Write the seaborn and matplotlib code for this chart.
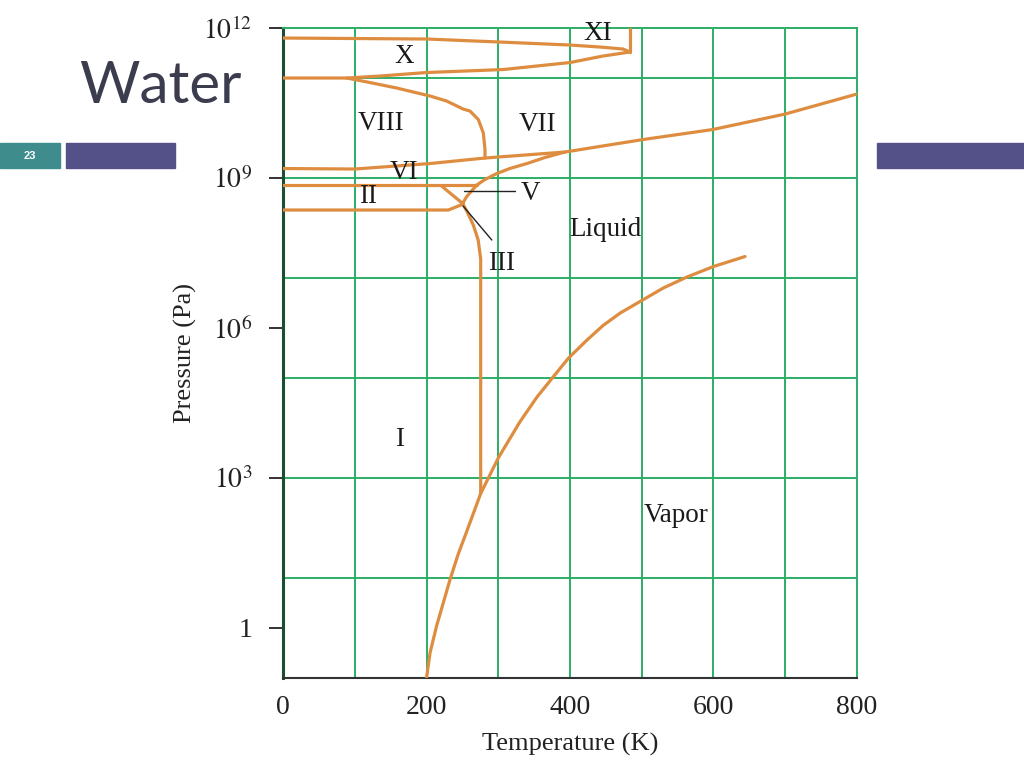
import matplotlib
matplotlib.use("Agg")
import matplotlib.pyplot as plt
import seaborn as sns
import pandas as pd
from matplotlib.patches import Rectangle

# =========================
# DATA
# =========================
# temperatures in K, pressures as log10(Pa)
vapor_T = [200, 205, 214, 233, 244, 256, 265, 275.5, 300, 330, 354, 377, 398,
           423, 446, 470, 500, 530, 563, 600, 644]
vapor_logP = [-1.0, -0.49, 0.04, 0.98, 1.47, 1.93, 2.28, 2.69, 3.40, 4.12, 4.62, 5.03,
              5.40, 5.75, 6.05, 6.30, 6.55, 6.80, 7.02, 7.23, 7.43]

ice1_T = [275.5, 275.5, 275.5, 272, 265.2, 256.8, 250.3]
ice1_logP = [2.69, 6.61, 7.38, 7.76, 8.06, 8.32, 8.49]

liq_high_T = [250.3, 256, 270, 281.5, 298, 316, 340, 365, 393, 502, 599, 700, 800]
liq_high_logP = [8.49, 8.63, 8.86, 8.97, 9.09, 9.19, 9.29, 9.41, 9.52, 9.77, 9.97,
                 10.28, 10.68]

vi_vii_T = [0, 100, 205, 281.5, 393]
vi_vii_logP = [9.19, 9.18, 9.29, 9.40, 9.52]

viii_vii_T = [89, 121, 158.5, 205, 228, 251, 260.6, 272.2, 279.2, 281.5, 281.5]
viii_vii_logP = [11.0, 10.91, 10.80, 10.64, 10.54, 10.38, 10.34, 10.17, 9.90, 9.57, 9.40]

x_low_T = [0, 89, 135, 200, 307, 400, 446, 483.6]
x_low_logP = [11.0, 11.0, 11.04, 11.11, 11.17, 11.31, 11.44, 11.52]

x_up_T = [0, 201, 302, 400, 442, 474, 483.6]
x_up_logP = [11.80, 11.78, 11.72, 11.66, 11.62, 11.58, 11.52]

xi_T = [483.6, 483.6]
xi_logP = [11.52, 12.0]

vi_ii_T = [0, 270]
vi_ii_logP = [8.86, 8.86]

vi_v_T = [221, 251.3]
vi_v_logP = [8.84, 8.48]

ii_iii_T = [0, 230.4, 251.3]
ii_iii_logP = [8.36, 8.36, 8.48]

# leader lines for the V and III labels
lead_v_T = [252, 323]
lead_v_logP = [8.75, 8.75]
lead_iii_T = [251, 291]
lead_iii_logP = [8.44, 7.76]

region_names = ["XI", "X", "VIII", "VII", "VI", "II", "V", "Liquid", "III", "I", "Vapor"]
region_T = [439, 169, 137, 354, 169, 118, 345, 450, 305, 162, 548]
region_logP = [11.89, 11.44, 10.09, 10.07, 9.11, 8.63, 8.69, 7.98, 7.30, 3.78, 2.25]

x_ticks = [0, 200, 400, 600, 800]
y_ticks = [1, 1e3, 1e6, 1e9, 1e12]
y_tick_labels = ["1", r"$10^3$", r"$10^6$", r"$10^9$", r"$10^{12}$"]
x_grid = [100, 200, 300, 400, 500, 600, 700]
y_grid = [1e-1, 1e1, 1e3, 1e5, 1e7, 1e9, 1e11]

ORANGE = "#DE8D40"
GREEN = "#2BAE66"

# =========================
# BUILD TABLE
# =========================
curves = {
    "vapor": (vapor_T, vapor_logP),
    "ice1": (ice1_T, ice1_logP),
    "liq_high": (liq_high_T, liq_high_logP),
    "vi_vii": (vi_vii_T, vi_vii_logP),
    "viii_vii": (viii_vii_T, viii_vii_logP),
    "x_low": (x_low_T, x_low_logP),
    "x_up": (x_up_T, x_up_logP),
    "xi": (xi_T, xi_logP),
    "vi_ii": (vi_ii_T, vi_ii_logP),
    "vi_v": (vi_v_T, vi_v_logP),
    "ii_iii": (ii_iii_T, ii_iii_logP),
}
rows = []
for name, (ts, lps) in curves.items():
    for t, lp in zip(ts, lps):
        rows.append({"curve": name, "T": t, "P": 10 ** lp})
df = pd.DataFrame(rows)

leaders = pd.DataFrame({
    "curve": ["v", "v", "iii", "iii"],
    "T": lead_v_T + lead_iii_T,
    "P": [10 ** v for v in lead_v_logP + lead_iii_logP],
})

# =========================
# FIGURE
# =========================
sns.set_style("white")
plt.rcParams["font.family"] = ["Liberation Serif", "DejaVu Serif"]
plt.rcParams["mathtext.fontset"] = "stix"

fig = plt.figure(figsize=(10.24, 7.68), dpi=100)

# slide decoration
fig.patches.append(Rectangle((0, 0.78125), 0.0586, 0.0326, transform=fig.transFigure,
                             color="#3E8C8C", zorder=0))
fig.patches.append(Rectangle((0.0645, 0.78125), 0.1064, 0.0326, transform=fig.transFigure,
                             color="#535188", zorder=0))
fig.patches.append(Rectangle((0.8564, 0.78125), 0.1436, 0.0326, transform=fig.transFigure,
                             color="#535188", zorder=0))
fig.text(0.0293, 0.797, "23", color="white", fontsize=8, fontweight="bold",
         family="Liberation Sans", ha="center", va="center")
fig.text(0.077, 0.888, "Water", color="#3B3D4F", fontsize=42, family="Lato",
         ha="left", va="center")

ax = fig.add_axes([0.2764, 0.1172, 0.5605, 0.8463])
ax.set_yscale("log")

for x in x_grid:
    ax.axvline(x, color=GREEN, lw=1.4, zorder=1)
for y in y_grid:
    ax.axhline(y, color=GREEN, lw=1.4, zorder=1)

sns.lineplot(data=df, x="T", y="P", units="curve", estimator=None, sort=False,
             color=ORANGE, lw=2.3, ax=ax, zorder=3)
sns.lineplot(data=leaders, x="T", y="P", units="curve", estimator=None, sort=False,
             color="#222222", lw=1.0, ax=ax, zorder=4)

for name, t, lp in zip(region_names, region_T, region_logP):
    ax.text(t, 10 ** lp, name, fontsize=19.5, ha="center", va="center",
            color="#1a1a1a", zorder=5)

ax.set_xlim(0, 800)
ax.set_ylim(1e-1, 1e12)
ax.set_xticks(x_ticks)
ax.set_xticklabels([str(v) for v in x_ticks])
ax.set_yticks(y_ticks)
ax.set_yticklabels(y_tick_labels)
ax.yaxis.set_minor_locator(matplotlib.ticker.NullLocator())
ax.tick_params(axis="x", length=0, pad=12, labelsize=20, colors="#222222")
ax.tick_params(axis="y", length=10, width=1.3, pad=12, labelsize=20, colors="#222222",
               direction="out", left=True)

ax.set_xlabel("Temperature (K)", fontsize=19, color="#222222")
ax.set_ylabel("Pressure (Pa)", fontsize=19, color="#222222")
ax.xaxis.set_label_coords(0.5, -0.085)
ax.yaxis.set_label_coords(-0.15, 0.5)

for side in ["top", "right"]:
    ax.spines[side].set_color(GREEN)
    ax.spines[side].set_linewidth(1.4)
ax.spines["left"].set_color("#1d4d33")
ax.spines["left"].set_linewidth(2.2)
ax.spines["bottom"].set_color("#333333")
ax.spines["bottom"].set_linewidth(1.5)

plt.savefig("out.png", dpi=100)
